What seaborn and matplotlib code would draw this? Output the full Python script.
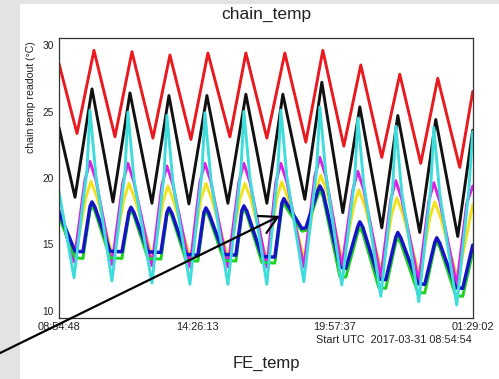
import matplotlib
matplotlib.use("Agg")
import matplotlib.pyplot as plt
import seaborn as sns
import pandas as pd
from matplotlib.ticker import FixedLocator, AutoMinorLocator, MultipleLocator
from matplotlib.patches import Rectangle

# ---------------- data (time in minutes since 2017-03-31 08:54:48 UTC) ----------------
start_time = "2017-03-31 08:54:48"
x_tick_labels = ["08:54:48", "14:26:13", "19:57:37", "01:29:02"]
start_label = "Start UTC  2017-03-31 08:54:54"

red_t = [0, 43.2, 84.0, 134.4, 175.2, 225.6, 266.4, 316.8, 357.6, 410.4, 448.8, 499.2,
         542.4, 592.8, 633.6, 684.0, 724.8, 775.2, 818.4, 868.8, 909.6, 962.4, 993.6]
red_v = [28.6, 23.35, 29.6, 23.1, 29.5, 23.0, 29.25, 22.9, 29.4, 23.1, 29.4, 23.0,
         29.4, 22.7, 29.6, 22.4, 28.5, 21.55, 27.8, 21.1, 27.5, 20.8, 26.5]

black_t = [0, 38.4, 79.2, 129.6, 170.4, 223.2, 264.0, 312.0, 355.2, 405.6, 448.8, 499.2,
           537.6, 590.4, 631.2, 681.6, 722.4, 775.2, 813.6, 866.4, 904.8, 957.6, 993.6]
black_v = [23.8, 18.55, 26.7, 18.2, 26.4, 18.1, 26.2, 18.05, 26.2, 18.1, 26.3, 18.1,
           26.3, 18.4, 27.2, 17.4, 25.35, 16.25, 24.7, 15.9, 24.4, 15.6, 23.6]

cyan_t = [0, 36.0, 67.2, 74.4, 88.8, 127.2, 158.4, 165.6, 180.0, 223.2, 252.0, 259.2, 273.6,
          314.4, 343.2, 350.4, 364.8, 405.6, 436.8, 444.0, 458.4, 499.2, 525.6, 532.8, 547.2,
          588.0, 619.2, 626.4, 640.8, 679.2, 710.4, 717.6, 732.0, 772.8, 801.6, 808.8, 823.2,
          864.0, 892.8, 900.0, 914.4, 955.2, 984.0, 993.6]
cyan_v = [19.0, 12.5, 20.6, 25.1, 20.1, 12.25, 20.4, 24.95, 19.9, 12.1, 20.2, 24.7, 19.7,
          12.0, 20.4, 24.9, 19.9, 12.0, 20.5, 25.0, 20.0, 12.0, 20.6, 25.1, 20.1,
          12.2, 20.8, 25.35, 20.3, 11.95, 20.0, 24.5, 19.5, 11.1, 19.4, 23.9, 18.9,
          10.7, 19.3, 23.8, 18.8, 10.45, 19.0, 23.5]

magenta_t = [0, 36.0, 62.4, 74.4, 88.8, 127.2, 153.6, 165.6, 180.0, 223.2, 247.2, 259.2, 273.6,
             314.4, 338.4, 350.4, 364.8, 405.6, 432.0, 444.0, 458.4, 499.2, 520.8, 532.8, 547.2,
             588.0, 614.4, 626.4, 640.8, 679.2, 705.6, 717.6, 732.0, 772.8, 796.8, 808.8, 823.2,
             864.0, 888.0, 900.0, 914.4, 955.2, 979.2, 993.6]
magenta_v = [17.6, 13.7, 19.85, 21.25, 19.85, 13.5, 19.7, 21.1, 19.7, 13.4, 19.5, 20.9, 19.5,
             13.3, 19.7, 21.1, 19.7, 13.3, 19.7, 21.1, 19.7, 13.3, 19.7, 21.1, 19.7,
             13.3, 20.15, 21.55, 20.15, 13.3, 19.1, 20.5, 19.1, 12.55, 18.4, 19.8, 18.4,
             12.2, 18.25, 19.65, 18.25, 11.95, 18.1, 19.4]

yellow_t = [0, 38.4, 64.8, 76.8, 91.2, 129.6, 156.0, 168.0, 182.4, 225.6, 249.6, 261.6, 276.0,
            316.8, 340.8, 352.8, 367.2, 408.0, 434.4, 446.4, 460.8, 499.2, 523.2, 535.2, 549.6,
            590.4, 616.8, 628.8, 643.2, 681.6, 708.0, 720.0, 734.4, 775.2, 799.2, 811.2, 825.6,
            866.4, 890.4, 902.4, 916.8, 957.6, 993.6]
yellow_v = [17.2, 14.1, 18.55, 19.75, 18.55, 14.0, 18.4, 19.6, 18.4, 13.9, 18.2, 19.4, 18.2,
            13.8, 18.4, 19.6, 18.4, 13.8, 18.4, 19.6, 18.4, 13.7, 18.5, 19.7, 18.5,
            13.8, 19.0, 20.2, 19.0, 13.6, 17.9, 19.1, 17.9, 12.9, 17.3, 18.5, 17.3,
            12.6, 17.0, 18.2, 17.0, 12.3, 18.0]

blue_t = [0, 38.4, 57.6, 74.4, 79.2, 86.4, 122.4, 151.2, 168.0, 172.8, 180.0,
          213.6, 244.8, 259.2, 264.0, 271.2, 304.8, 333.6, 348.0, 352.8, 360.0,
          396.0, 424.8, 439.2, 444.0, 451.2, 487.2, 518.4, 535.2, 540.0, 547.2,
          583.2, 592.8, 621.6, 626.4, 633.6, 674.4, 688.8, 717.6, 722.4, 729.6,
          768.0, 784.8, 808.8, 813.6, 820.8, 861.6, 878.4, 902.4, 907.2, 914.4,
          952.8, 969.6, 993.6]
blue_v = [17.4, 14.5, 14.45, 17.85, 18.2, 17.8, 14.5, 14.45, 17.45, 17.8, 17.4,
          14.45, 14.4, 17.4, 17.75, 17.35, 14.25, 14.2, 17.4, 17.75, 17.35,
          14.25, 14.2, 17.55, 17.9, 17.5, 14.1, 14.05, 18.1, 18.45, 18.05,
          16.2, 16.25, 19.05, 19.4, 19.0, 13.3, 13.2, 16.35, 16.7, 16.3,
          12.4, 12.35, 15.55, 15.9, 15.5, 12.05, 12.0, 15.15, 15.5, 15.1,
          11.75, 11.7, 14.95]

green_t = blue_t
green_v = [17.1, 14.0, 13.95, 17.55, 17.9, 17.5, 14.0, 13.95, 17.2, 17.55, 17.15,
           13.95, 13.9, 17.15, 17.5, 17.1, 13.8, 13.75, 17.15, 17.5, 17.1,
           13.8, 13.75, 17.3, 17.65, 17.25, 13.65, 13.6, 17.75, 18.1, 17.7,
           16.0, 16.05, 18.7, 19.05, 18.65, 12.6, 12.55, 15.9, 16.25, 15.85,
           11.75, 11.7, 15.15, 15.5, 15.1, 11.4, 11.35, 14.85, 15.2, 14.8,
           11.15, 11.1, 14.4]

arrow_tip = (530.4, 17.15)   # point the annotation arrow targets (minutes, degC)

# ---------------- figure ----------------
sns.set_style("white")
plt.rcParams["font.family"] = ["Liberation Sans", "DejaVu Sans"]

W, H = 499, 379
fig = plt.figure(figsize=(W / 100, H / 100), dpi=100)
fig.patch.set_facecolor("#e3e3e3")
fig.add_artist(Rectangle((20 / W, 0), 1 - 20 / W, 1 - 4 / H, transform=fig.transFigure,
                         facecolor="white", edgecolor="none", zorder=-5))

ax = fig.add_axes([59 / W, 1 - 318 / H, (473 - 59) / W, (318 - 38) / H])
ax.set_facecolor("white")

series = [
    (red_t, red_v, "#e8191f", 2.1),
    (black_t, black_v, "#111111", 2.1),
    (yellow_t, yellow_v, "#f2e21c", 2.1),
    (magenta_t, magenta_v, "#e01ee0", 2.1),
    (green_t, green_v, "#1ed21e", 2.1),
    (blue_t, blue_v, "#1515c4", 2.5),
    (cyan_t, cyan_v, "#3fdcdc", 2.1),
]
for t, v, c, lw in series:
    sns.lineplot(x=t, y=v, ax=ax, color=c, lw=lw, estimator=None, sort=False,
                 legend=False, solid_joinstyle="round", solid_capstyle="round")

# x ticks from the time labels
t0 = pd.Timestamp(start_time)
tick_pos = []
prev = t0
for lab in x_tick_labels:
    ts = pd.Timestamp(start_time[:10] + " " + lab)
    while ts < prev:
        ts += pd.Timedelta(days=1)
    prev = ts
    tick_pos.append((ts - t0).total_seconds() / 60.0)

ax.set_xlim(tick_pos[0], tick_pos[-1])
ax.set_ylim(9.47, 30.53)
ax.xaxis.set_major_locator(FixedLocator(tick_pos))
ax.set_xticklabels(x_tick_labels)
ax.xaxis.set_minor_locator(AutoMinorLocator(5))
ax.yaxis.set_major_locator(MultipleLocator(5))
ax.yaxis.set_minor_locator(MultipleLocator(1))

ax.tick_params(axis="x", which="major", direction="in", length=7, width=0.9, color="#222",
               labelsize=7.9, pad=3, labelcolor="#222", top=False)
ax.tick_params(axis="x", which="minor", direction="in", length=3.6, width=0.9, color="#222", top=False)
ax.tick_params(axis="y", which="major", direction="in", length=8, width=0.9, color="#222",
               labelsize=7.3, pad=4, labelcolor="#222", right=False)
ax.tick_params(axis="y", which="minor", direction="in", length=4.5, width=0.9, color="#222", right=False)

for s in ax.spines.values():
    s.set_color("#333333")
    s.set_linewidth(0.9)
ax.set_xlabel("")
ax.set_ylabel("")

# texts
fig.text(266 / W, 1 - 14 / H, "chain_temp", ha="center", va="center", fontsize=12.5, color="#222")
fig.text(31 / W, 1 - 97 / H, "chain temp readout (\u00b0C)", rotation=90, ha="center",
         va="center", fontsize=7.6, color="#222")
fig.text(472 / W, 1 - 343 / H, start_label, ha="right", va="baseline", fontsize=7.8, color="#222")
fig.text(266 / W, 1 - 363 / H, "FE_temp", ha="center", va="center", fontsize=12, color="#222")

# arrow annotation
ax.annotate("", xy=arrow_tip, xycoords="data", xytext=(-0.01, 0.062),
            textcoords="figure fraction", annotation_clip=False,
            arrowprops=dict(arrowstyle="->,head_length=0.62,head_width=0.34", color="black",
                            lw=1.6, mutation_scale=20, shrinkA=0, shrinkB=0))

fig.savefig("out.png", dpi=100, facecolor=fig.get_facecolor())
